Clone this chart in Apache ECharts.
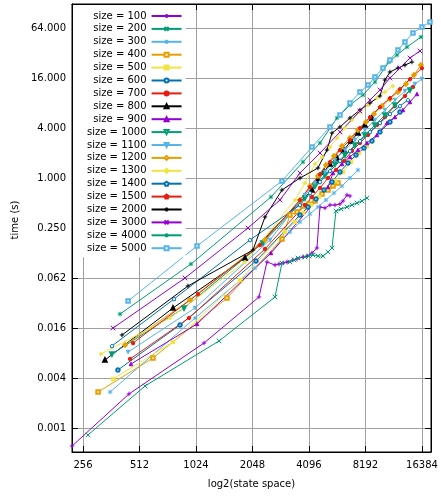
<!DOCTYPE html>
<html><head><meta charset="utf-8">
<script src="https://cdn.jsdelivr.net/npm/echarts@6/dist/echarts.min.js"></script>
<style>html,body{margin:0;padding:0;background:#fff}#c{width:441px;height:496px}</style>
</head><body><div id="c"></div>
<script>
const sizes = ['100','200','300','400','500','600','700','800','900','1000','1100','1200','1300','1400','1500','2000','3000','4000','5000'];

const size100 = [[224,0.000593],[450,0.00251],[1130,0.0103],[2218,0.0369],[2447,0.0974],[2699,0.0896],[2835,0.0921],[2977,0.0947],[3127,0.0974],[3366,0.103],[3535,0.1058],[3806,0.1119],[3997,0.115],[4250,0.125],[4518,0.1436],[4688,0.4475],[4984,0.4353],[5299,0.473],[5636,0.473],[5992,0.4863],[6216,0.5285],[6529,0.6242],[6774,0.6071]];
const size200 = [[272,0.000804],[548,0.00313],[1358,0.0109],[2699,0.0369],[2941,0.0947],[3244,0.0974],[3408,0.103],[3579,0.1088],[3900,0.1119],[4096,0.115],[4302,0.1183],[4574,0.115],[4864,0.115],[5171,0.1285],[5432,0.1436],[5704,0.4005],[6066,0.4234],[6529,0.4475],[6942,0.473],[7381,0.5],[7848,0.5285],[8344,0.5744]];
const size300 = [[357,0.00265],[1012,0.0206],[2112,0.0825],[3244,0.2238],[3668,0.2953],[4147,0.3686],[4574,0.4475],[5046,0.5434],[5567,0.6598],[6141,0.8011],[6774,1.0],[7472,1.2483]];
const size400 = [[308,0.00265],[604,0.0068],[1498,0.0359],[2941,0.1843],[3244,0.3585],[3535,0.3896],[3806,0.4601],[4096,0.4863],[4409,0.5285],[4805,0.6417],[5171,0.717],[5499,0.8011],[5846,0.8706]];
const size500 = [[370,0.0038],[772,0.0106],[1757,0.0591],[3051,0.2238],[3450,0.2953],[3806,0.3789],[4198,0.473],[4631,0.5905],[5108,0.7372],[5636,0.9202],[6216,1.181],[6857,1.5583],[7564,2.0],[8344,2.4284]];
const size600 = [[393,0.00488],[842,0.017],[2138,0.1001],[3668,0.3585],[4046,0.4475],[4463,0.5587],[4924,0.717],[5432,0.8951],[5992,1.181],[6609,1.5157],[7291,1.8921],[8043,2.2974],[8872,2.7895],[9786,3.5801],[11063,4.724],[12508,6.2333]];
const size700 = [[456,0.00662],[940,0.0206],[2387,0.1397],[3900,0.473],[4250,0.5905],[4688,0.7579],[5171,1.0],[5704,1.2483],[6293,1.6021],[6942,2.114],[7658,2.639],[8447,3.2944],[9432,4.3469],[10405,5.4264],[11764,7.3615],[13299,9.7136],[14673,12.465]];
const size800 = [[335,0.00643],[772,0.0272],[1868,0.1088],[4250,0.717],[4574,0.946],[4924,1.181],[5299,1.4743],[5775,1.7411],[6293,2.1735],[6857,2.7895],[7472,3.4822],[8142,4.3469],[8872,5.278]];
const size900 = [[461,0.00576],[1037,0.01746],[2570,0.125],[5171,0.7792],[5499,1.1487],[6141,1.4743],[6774,1.7901],[7472,2.1735],[8344,2.639],[9432,3.2944],[10664,4.5948],[11764,5.4264],[12977,6.5887],[14142,8.2249],[15411,10.267]];
const size1000 = [[365,0.0076],[884,0.0272],[2329,0.1649],[3900,0.5744],[4409,0.8011],[4984,1.0867],[5636,1.4743],[6371,1.8921],[7202,2.4967],[8142,3.2944],[9204,4.3469],[10405,5.7358],[11764,7.5685],[14142,11.471]];
const size1100 = [[445,0.00803],[1012,0.0272],[2538,0.1793],[3900,0.6242],[4409,0.8706],[4984,1.181],[5636,1.6472],[6371,2.1735],[7202,2.8679],[8142,3.7842],[9204,4.9933],[10405,6.5887],[11764,8.6939],[13299,11.158],[15037,13.548],[16384,15.562]];
const size1200 = [[429,0.00975],[951,0.034],[2387,0.1793],[3668,0.5434],[4147,0.8011],[4574,1.057],[5046,1.434],[5567,1.8404],[6141,2.4284],[6774,3.0314],[7472,3.7842],[8242,4.724],[9092,5.8971],[10030,7.3615],[11063,8.9383],[12205,10.852],[13465,13.548],[14854,17.388],[16184,22.943]];
const size1300 = [[319,0.0076],[744,0.0206],[1868,0.0974],[3450,0.5434],[3900,0.8706],[4409,1.4743],[4805,1.7901],[5299,2.362],[5775,3.0314],[6371,4.0],[6942,4.9933],[7658,6.2333],[8447,7.5685],[9432,9.1896],[10405,10.852],[11479,12.82]];
const size1400 = [[365,0.00949],[782,0.0349],[1986,0.1793],[3668,0.473],[4147,0.6598],[4688,0.8951],[5299,1.214],[5992,1.6021],[6774,2.114],[7658,2.7895],[8656,3.5801],[9786,4.5948],[11063,5.8971],[12508,7.3615],[13799,8.6939]];
const size1500 = [[473,0.0103],[1049,0.0401],[2245,0.156],[3668,0.5434],[4147,0.7792],[4688,1.1173],[5299,1.5583],[5992,2.1735],[6774,2.8679],[7658,4.0],[8656,5.4264],[9786,7.16],[11063,9.1896],[12508,11.793],[14142,15.562],[16384,21.112]];
const size2000 = [[413,0.01287],[928,0.0501],[2060,0.1358],[2387,0.3392],[2941,0.717],[3668,1.0],[4574,1.3195],[5108,2.1735],[5432,3.4822],[5992,4.1125],[6774,5.278],[7658,6.5887],[8656,8.0],[9786,9.7136],[10405,15.137],[11063,18.896],[12205,21.112],[13299,22.943],[14493,24.933]];
const size3000 = [[370,0.0156],[895,0.0625],[1938,0.25],[2870,0.5434],[3668,1.1487],[4688,2.0],[5992,3.5801],[7658,6.4086],[8656,8.6939],[9786,11.471],[11063,16.0],[12508,21.112],[14142,27.858],[15996,33.825]];
const size4000 = [[403,0.023],[963,0.0921],[2570,0.5905],[3806,1.5583],[4688,2.639],[5775,5.278],[6774,7.5685],[7945,9.9866],[9204,14.32],[10929,24.933],[12056,30.274],[13631,37.792],[16184,49.87]];
const size5000 = [[445,0.033],[1037,0.1518],[2941,0.9202],[4250,2.362],[5299,4.1125],[5992,5.7358],[6774,8.0],[7658,10.852],[8447,13.177],[9204,16.45],[10153,21.112],[11063,26.354],[12205,34.778],[13299,43.411],[14673,55.715],[16384,65.8],[18074,75.58]];

const seriesValues = [size100,size200,size300,size400,size500,size600,size700,size800,size900,size1000,size1100,size1200,size1300,size1400,size1500,size2000,size3000,size4000,size5000];

const xTickValues = [256,512,1024,2048,4096,8192,16384];
const xTickLabels = ['256','512','1024','2048','4096','8192','16384'];
const yTickValues = [1/1024,1/256,1/64,1/16,1/4,1,4,16,64];
const yTickLabels = ['0.001','0.004','0.016','0.062','0.250','1.000','4.000','16.000','64.000'];

const palette = ['#9400d3','#009e73','#56b4e9','#e69f00','#f0e442','#0072b2','#e51e10','#000000'];
const P_PLUS = 'path://M0,5L10,5M5,0L5,10';
const P_CROSS = 'path://M0,0L10,10M10,0L0,10';
const P_STAR = 'path://M0,5L10,5M5,0L5,10M1.5,1.5L8.5,8.5M8.5,1.5L1.5,8.5';
const P_PENT = 'path://M5,0L9.76,3.45L7.94,9.05L2.06,9.05L0.24,3.45Z';
const pointTypes = [
  {s:P_PLUS, stroke:true}, {s:P_CROSS, stroke:true}, {s:P_STAR, stroke:true},
  {s:'emptyRect'}, {s:'rect'}, {s:'emptyCircle'}, {s:'circle'},
  {s:'emptyTriangle'}, {s:'triangle'}, {s:'emptyTriangle', rot:180}, {s:'triangle', rot:180},
  {s:'emptyDiamond'}, {s:'diamond'}, {s:P_PENT, open:true}, {s:P_PENT}
];

function labelFor(v, vals, labels) {
  for (let i = 0; i < vals.length; i++) {
    if (Math.abs(Math.log2(v) - Math.log2(vals[i])) < 0.02) return labels[i];
  }
  return '';
}

const FONT = 'DejaVu Sans';
const series = sizes.map((s, i) => {
  const c = palette[i % 8];
  const pt = pointTypes[i % 15];
  const o = {
    name: 'size = ' + s,
    type: 'line',
    data: seriesValues[i],
    color: c,
    symbol: pt.s,
    symbolSize: pt.stroke ? 4.5 : 3.5,
    symbolRotate: pt.rot || 0,
    showAllSymbol: true,
    lineStyle: {color: c, width: 1},
    itemStyle: {color: c, borderColor: c, borderWidth: 1},
    emphasis: {disabled: true},
    animation: false
  };
  if (pt.open) o.itemStyle.color = '#ffffff';
  return o;
});

const axisCommonX = {
  type: 'log', logBase: 2,
  min: Math.pow(2, 7.805), max: Math.pow(2, 14.16),
  splitNumber: 6
};
const axisCommonY = {
  type: 'log', logBase: 2,
  min: Math.pow(2, -10.96), max: Math.pow(2, 6.96)
};

const chart = echarts.init(document.getElementById('c'), null, {renderer: 'canvas'});
chart.setOption({
  animation: false,
  backgroundColor: '#ffffff',
  textStyle: {fontFamily: FONT},
  grid: {left: 72, right: 10, top: 4, bottom: 44, show: true, borderColor: '#000', borderWidth: 1},
  xAxis: [
    Object.assign({}, axisCommonX, {
      position: 'bottom',
      name: 'log2(state space)', nameLocation: 'middle', nameGap: 27,
      nameTextStyle: {fontFamily: FONT, fontSize: 10, color: '#000'},
      axisLine: {show: true, lineStyle: {color: '#000', width: 1}},
      axisTick: {show: true, inside: true, length: 6, lineStyle: {color: '#000'}},
      axisLabel: {fontFamily: FONT, fontSize: 10, color: '#000', margin: 8, showMinLabel: false, showMaxLabel: false,
        formatter: v => labelFor(v, xTickValues, xTickLabels)},
      splitLine: {show: true, lineStyle: {color: '#a0a0a0', width: 1}}
    }),
    Object.assign({}, axisCommonX, {
      position: 'top',
      axisLine: {show: true, lineStyle: {color: '#000', width: 1}},
      axisTick: {show: true, inside: true, length: 6, lineStyle: {color: '#000'}},
      axisLabel: {show: false}, splitLine: {show: false}
    })
  ],
  yAxis: [
    Object.assign({}, axisCommonY, {
      position: 'left',
      name: 'time (s)', nameLocation: 'middle', nameGap: 45, nameRotate: 90,
      nameTextStyle: {fontFamily: FONT, fontSize: 10, color: '#000', padding: [0, 0, 0, 16]},
      axisLine: {show: true, lineStyle: {color: '#000', width: 1}},
      axisTick: {show: true, inside: true, length: 6, lineStyle: {color: '#000'}, customValues: yTickValues},
      axisLabel: {fontFamily: FONT, fontSize: 10, color: '#000', margin: 6, customValues: yTickValues,
        formatter: v => labelFor(v, yTickValues, yTickLabels)},
      splitLine: {show: true, lineStyle: {color: '#a0a0a0', width: 1}}
    }),
    Object.assign({}, axisCommonY, {
      position: 'right',
      axisLine: {show: true, lineStyle: {color: '#000', width: 1}},
      axisTick: {show: true, inside: true, length: 6, lineStyle: {color: '#000'}, customValues: yTickValues},
      axisLabel: {show: false, customValues: yTickValues}, splitLine: {show: false}
    })
  ],
  legend: {
    orient: 'vertical', align: 'right',
    left: 73, top: 5,
    padding: [6, 3, 4, 14],
    itemWidth: 30, itemHeight: 5, itemGap: 2.9,
    backgroundColor: '#ffffff',
    textStyle: {fontFamily: FONT, fontSize: 10, color: '#000', lineHeight: 10},
    selectedMode: false,
    data: sizes.map(s => 'size = ' + s)
  },
  series: series
});
</script></body></html>
